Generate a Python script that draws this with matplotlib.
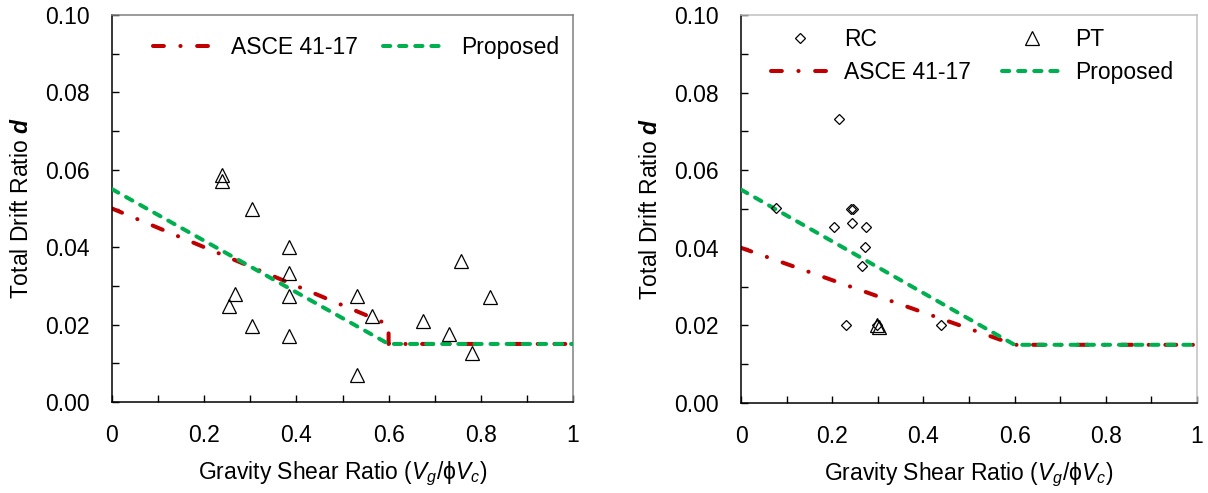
import matplotlib
matplotlib.use("Agg")
import matplotlib.pyplot as plt
from matplotlib.ticker import MultipleLocator, FixedLocator, FuncFormatter

plt.rcParams['font.family'] = ['Liberation Sans', 'DejaVu Sans']
plt.rcParams['mathtext.fontset'] = 'custom'
plt.rcParams['mathtext.rm'] = 'Liberation Sans'
plt.rcParams['mathtext.it'] = 'Liberation Sans:italic'
plt.rcParams['mathtext.bf'] = 'Liberation Sans:italic:bold'
plt.rcParams['mathtext.fallback'] = 'stixsans'

# ---------------- data ----------------
# Left panel: PT specimens
pt_left_x = [0.239, 0.239, 0.304, 0.383, 0.383, 0.383, 0.383, 0.266, 0.253, 0.304,
             0.531, 0.563, 0.531, 0.757, 0.819, 0.675, 0.731, 0.781]
pt_left_y = [0.0587, 0.0570, 0.0498, 0.0400, 0.0333, 0.0274, 0.0171, 0.0280, 0.0247, 0.0196,
             0.0274, 0.0223, 0.0070, 0.0364, 0.0271, 0.0209, 0.0176, 0.0127]

# Right panel: RC and PT specimens
rc_right_x = [0.216, 0.076, 0.242, 0.246, 0.2035, 0.244, 0.275, 0.272, 0.266, 0.230, 0.299, 0.439]
rc_right_y = [0.0732, 0.0502, 0.0500, 0.0500, 0.0454, 0.0464, 0.0454, 0.0401, 0.0352, 0.0201, 0.0200, 0.0200]
pt_right_x = [0.298, 0.303]
pt_right_y = [0.0200, 0.0197]

# Model curves
asce_left_x = [0.0, 0.6, 0.6, 1.0]
asce_left_y = [0.050, 0.020, 0.015, 0.015]
prop_left_x = [0.0, 0.6, 1.0]
prop_left_y = [0.055, 0.015, 0.015]

asce_right_x = [0.0, 0.6, 1.0]
asce_right_y = [0.040, 0.015, 0.015]
prop_right_x = [0.0, 0.6, 1.0]
prop_right_y = [0.055, 0.015, 0.015]

x_ticks = [0, 0.2, 0.4, 0.6, 0.8, 1.0]
x_ticklabels = ['0', '0.2', '0.4', '0.6', '0.8', '1']
y_ticks = [0.00, 0.02, 0.04, 0.06, 0.08, 0.10]

RED = '#C00000'
GREEN = '#00B050'
FS = 16.5

fig = plt.figure(figsize=(12.08, 4.93), dpi=100)
axL = fig.add_axes([112/1208, 1-402/493, 461/1208, 387/493])
axR = fig.add_axes([741/1208, 1-403/493, 456/1208, 388/493])

red_ls = (0, (2.7, 4.1, 0.05, 4.1))
green_ls = (0, (1.8, 2.2))
LW = 2.9

def style(ax, frame_color):
    ax.set_xlim(0, 1)
    ax.set_ylim(0, 0.10)
    ax.xaxis.set_major_locator(FixedLocator(x_ticks))
    ax.set_xticklabels(x_ticklabels)
    ax.xaxis.set_minor_locator(MultipleLocator(0.1))
    ax.yaxis.set_major_locator(FixedLocator(y_ticks))
    ax.yaxis.set_major_formatter(FuncFormatter(lambda v, p: f'{v:.2f}'))
    ax.yaxis.set_minor_locator(MultipleLocator(0.01))
    ax.tick_params(which='both', direction='in', length=5, width=1, color='black',
                   top=False, right=False, labelsize=FS, pad=16)
    for s in ['left', 'bottom']:
        ax.spines[s].set_color('black')
        ax.spines[s].set_linewidth(1.1)
    for s in ['top', 'right']:
        ax.spines[s].set_color(frame_color)
        ax.spines[s].set_linewidth(1.1)
    ax.set_xlabel(r'Gravity Shear Ratio ($V_g$/$\mathrm{ϕ}V_c$)', fontsize=FS, labelpad=9)
    ax.set_ylabel(r'Total Drift Ratio $\mathbf{d}$', fontsize=FS, labelpad=9)

# Left panel
axL.plot(asce_left_x, asce_left_y, color=RED, lw=LW, linestyle=red_ls,
         dash_capstyle='round', label='ASCE 41-17', zorder=2)
axL.plot(prop_left_x, prop_left_y, color=GREEN, lw=LW, linestyle=green_ls,
         dash_capstyle='round', label='Proposed', zorder=3)
axL.plot(pt_left_x, pt_left_y, linestyle='none', marker='^', markersize=10,
         markerfacecolor='none', markeredgecolor='black', markeredgewidth=0.9, zorder=4)
style(axL, '#808080')
axL.legend(loc='center left', bbox_to_anchor=(0.09, 0.917), ncol=2, frameon=False,
           fontsize=FS, handlelength=2.6, handletextpad=0.8, columnspacing=1.1,
           borderpad=0, borderaxespad=0)

# Right panel
axR.plot(rc_right_x, rc_right_y, linestyle='none', marker='D', markersize=5.2,
         markerfacecolor='none', markeredgecolor='black', markeredgewidth=0.9,
         label='RC', zorder=4)
axR.plot(pt_right_x, pt_right_y, linestyle='none', marker='^', markersize=10,
         markerfacecolor='none', markeredgecolor='black', markeredgewidth=0.9,
         label='PT', zorder=4)
axR.plot(asce_right_x, asce_right_y, color=RED, lw=LW, linestyle=red_ls,
         dash_capstyle='round', label='ASCE 41-17', zorder=2)
axR.plot(prop_right_x, prop_right_y, color=GREEN, lw=LW, linestyle=green_ls,
         dash_capstyle='round', label='Proposed', zorder=3)
style(axR, '#C0C0C0')
h, l = axR.get_legend_handles_labels()
order = [0, 2, 1, 3]
axR.legend([h[i] for i in order], [l[i] for i in order], loc='center left',
           bbox_to_anchor=(0.065, 0.894), ncol=2, frameon=False, fontsize=FS,
           handlelength=2.6, handletextpad=0.6, columnspacing=1.35, labelspacing=0.45,
           borderpad=0, borderaxespad=0, numpoints=1)

fig.savefig('out.png', dpi=100)
